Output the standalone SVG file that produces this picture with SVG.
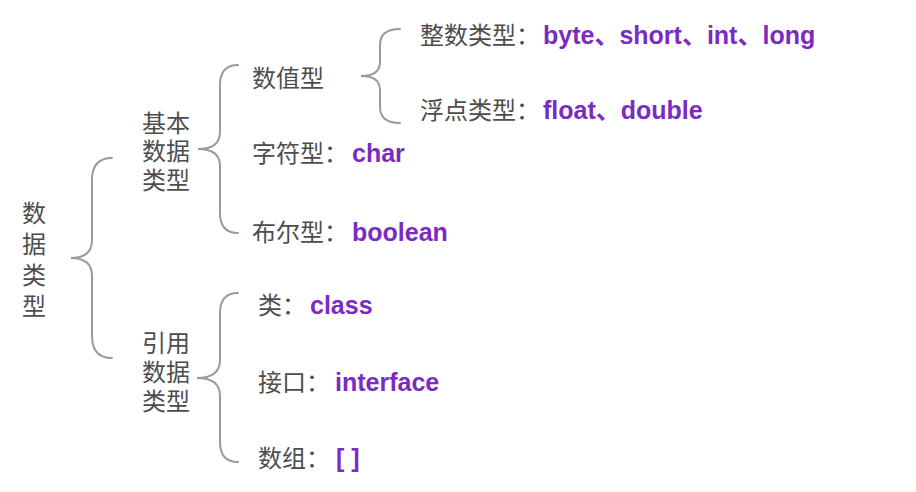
<svg xmlns="http://www.w3.org/2000/svg" width="916" height="492" viewBox="0 0 916 492">
<style>
.zh{font-family:"Liberation Sans","Noto Sans CJK SC",sans-serif;font-size:24px;fill:#4d4d4d}
.en{font-family:"Liberation Sans","Noto Sans CJK SC",sans-serif;font-size:25px;font-weight:bold;fill:#7a2bc2}
.brace{fill:none;stroke:#9a9a9a;stroke-width:2;stroke-linecap:round}
</style>
<rect width="916" height="492" fill="#ffffff"/>
<g id="connectors">
<path class="brace" d="M112,158 Q92,158 92,180 L92,240 Q92,258 71,258 Q92,258 92,276 L92,336 Q92,358 112,358"/>
<path class="brace" d="M238,65 Q220,65 220,85 L220,132 Q220,149 198,149 Q220,149 220,166 L220,213 Q220,233 238,233"/>
<path class="brace" d="M400,29 Q380,29 380,45 L380,62 Q380,76 361,76 Q380,76 380,90 L380,107 Q380,123 400,123"/>
<path class="brace" d="M238,293 Q220,293 220,313 L220,360 Q220,378 197,378 Q220,378 220,396 L220,442 Q220,462 238,462"/>
</g>
<g id="root">
<text class="zh" x="22" y="222">数</text>
<text class="zh" x="22" y="253">据</text>
<text class="zh" x="22" y="284">类</text>
<text class="zh" x="22" y="315">型</text>
</g>
<g id="basic">
<text class="zh" x="142" y="132">基本</text>
<text class="zh" x="142" y="160">数据</text>
<text class="zh" x="142" y="189">类型</text>
</g>
<g id="numeric"><text class="zh" x="252" y="87">数值型</text></g>
<g id="integer"><text x="420" y="44"><tspan class="zh">整数类型：</tspan><tspan class="en" dx="3">byte、short、int、long</tspan></text></g>
<g id="float"><text x="420" y="119"><tspan class="zh">浮点类型：</tspan><tspan class="en" dx="3">float、double</tspan></text></g>
<g id="char"><text x="252" y="162"><tspan class="zh">字符型：</tspan><tspan class="en" dx="4">char</tspan></text></g>
<g id="boolean"><text x="252" y="241"><tspan class="zh">布尔型：</tspan><tspan class="en" dx="4">boolean</tspan></text></g>
<g id="reference">
<text class="zh" x="142" y="352">引用</text>
<text class="zh" x="142" y="381">数据</text>
<text class="zh" x="142" y="410">类型</text>
</g>
<g id="class"><text x="258" y="314"><tspan class="zh">类：</tspan><tspan class="en" dx="4">class</tspan></text></g>
<g id="interface"><text x="258" y="391"><tspan class="zh">接口：</tspan><tspan class="en" dx="5">interface</tspan></text></g>
<g id="array"><text x="258" y="467"><tspan class="zh">数组：</tspan><tspan class="en" dx="6">[ ]</tspan></text></g>
</svg>
